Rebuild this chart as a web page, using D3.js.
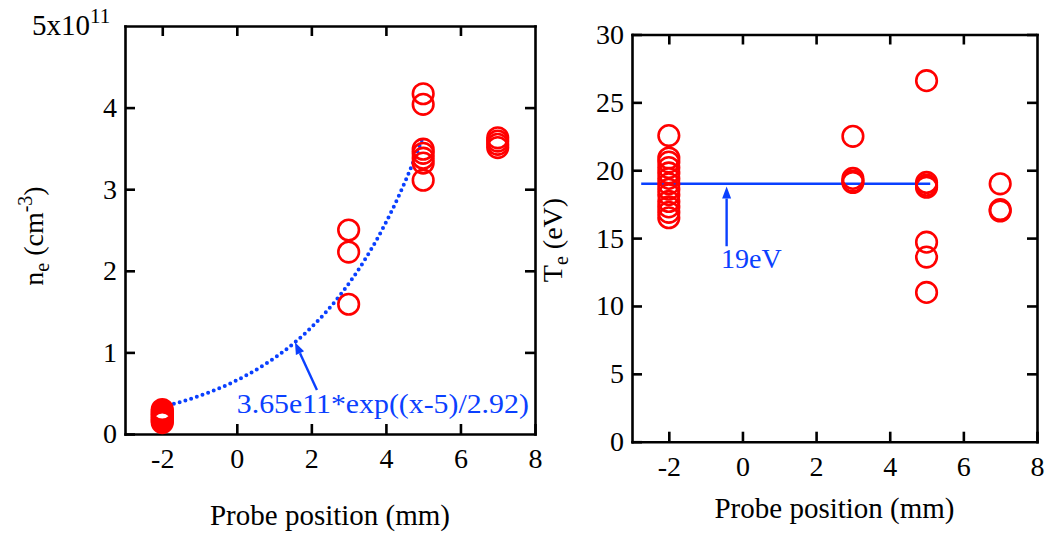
<!DOCTYPE html>
<html>
<head>
<meta charset="utf-8">
<script src="https://cdn.jsdelivr.net/npm/d3@7"></script>
<style>
  body { margin: 0; background: #ffffff; }
  svg text { font-family: "Liberation Serif", "Times New Roman", serif; }
</style>
</head>
<body>
<div id="chart"></div>
<script>
// ---- data ----
const xTicks   = [-2, 0, 2, 4, 6, 8];
const neTicks  = [0, 1, 2, 3, 4];          // units of 1e11 cm^-3
const teTicks  = [0, 5, 10, 15, 20, 25, 30];

const neX = [-2, -2, -2, -2, -2, -2, -2, -2, -2, 3, 3, 3, 5, 5, 5, 5, 5, 5, 5, 7, 7, 7, 7];
const neY = [0.14, 0.16, 0.18, 0.20, 0.22, 0.24, 0.26, 0.28, 0.30,
             2.50, 2.23, 1.59,
             4.17, 4.04, 3.49, 3.44, 3.38, 3.32, 3.11,
             3.63, 3.59, 3.55, 3.51];

const teX = [-2, -2, -2, -2, -2, -2, -2, -2, -2, -2, -2, -2, -2,
             3, 3, 3, 3,
             5, 5, 5, 5, 5, 5, 5,
             7, 7, 7];
const teY = [22.55, 20.9, 20.6, 20.2, 19.8, 19.4, 19.0, 18.6, 18.2, 17.7, 17.3, 16.9, 16.5,
             22.5, 19.4, 19.2, 19.1,
             26.6, 19.1, 18.9, 18.75, 14.7, 13.6, 11.0,
             19.0, 17.1, 17.0];

// fit shown on the left panel: 3.65e11*exp((x-5)/2.92), drawn from x=-2 to 5
const fitAmp = 3.65, fitX0 = 5, fitLen = 2.92;
const fitRange = [-2, 5];
// mean Te line on the right panel
const teMean = 19;
const teMeanRange = [-2.75, 5.1];

const W = 1046, H = 536;
const blue = "#0a40ff", red = "#ff0000";
const serif = "'Liberation Serif','Times New Roman',serif";

const svg = d3.select("#chart").append("svg")
	.attr("width", W).attr("height", H)
	.attr("font-family", serif);

// one panel = frame + inward ticks on four sides
const panel = (px, py, yDomain, yTickVals)=>{
	const x = d3.scaleLinear().domain([-3, 8]).range(px);
	const y = d3.scaleLinear().domain(yDomain).range(py);
	const g = svg.append("g");

	const styleAx = (sel)=>{
		sel.attr("font-family", serif).attr("font-size", 28);
		sel.selectAll("path").attr("stroke", "#000").attr("stroke-width", 2.6).attr("stroke-linecap", "square");
		sel.selectAll("line").attr("stroke", "#000").attr("stroke-width", 2.6);
		sel.selectAll("text").attr("fill", "#000");
	};
	const fmt = (d)=>String(d);   // plain hyphen for negatives

	g.append("g").attr("transform", "translate(0," + py[0] + ")")
		.call(d3.axisBottom(x).tickValues(xTicks).tickSize(-10).tickSizeOuter(0).tickPadding(14).tickFormat(fmt))
		.call(styleAx);
	g.append("g").attr("transform", "translate(0," + py[1] + ")")
		.call(d3.axisTop(x).tickValues(xTicks.filter(d=>d<8)).tickSize(-10).tickSizeOuter(0).tickFormat(""))
		.call(styleAx);
	g.append("g").attr("transform", "translate(" + px[0] + ",0)")
		.call(d3.axisLeft(y).tickValues(yTickVals).tickSize(-10).tickSizeOuter(0).tickPadding(8).tickFormat(fmt))
		.call(styleAx);
	g.append("g").attr("transform", "translate(" + px[1] + ",0)")
		.call(d3.axisRight(y).tickValues(yTickVals.filter(d=>d>yDomain[0])).tickSize(-10).tickSizeOuter(0).tickFormat(""))
		.call(styleAx);
	g.selectAll(".domain").attr("fill", "none");
	return {g, x, y};
};

const arrowHead = (g, x1, y1, x2, y2)=>{
	// filled triangle at (x2,y2) pointing from (x1,y1)
	const a = Math.atan2(y2 - y1, x2 - x1), L = 12, w = 4.5;
	const bx = x2 - L * Math.cos(a), by = y2 - L * Math.sin(a);
	const pts = [[x2, y2],
		[bx + w * Math.sin(a), by - w * Math.cos(a)],
		[bx - w * Math.sin(a), by + w * Math.cos(a)]];
	g.append("path").attr("d", "M" + pts.join("L") + "Z").attr("fill", blue);
	g.append("line").attr("x1", x1).attr("y1", y1).attr("x2", bx).attr("y2", by)
		.attr("stroke", blue).attr("stroke-width", 2.4);
};

// ---- left panel: density ----
const L = panel([125, 535], [434, 26], [0, 5], neTicks);

const fitPts = d3.range(fitRange[0], fitRange[1] + 1e-9, 0.05).map(v=>[v, fitAmp * Math.exp((v - fitX0) / fitLen)]);
L.g.append("path")
	.datum(fitPts)
	.attr("d", d3.line().x(d=>L.x(d[0])).y(d=>L.y(d[1])))
	.attr("fill", "none").attr("stroke", blue).attr("stroke-width", 4)
	.attr("stroke-linecap", "round").attr("stroke-dasharray", "0,6");

L.g.selectAll("circle.ne")
	.data(neX.map((v, i)=>[v, neY[i]]))
	.enter().append("circle").attr("class", "ne")
		.attr("cx", d=>L.x(d[0])).attr("cy", d=>L.y(d[1])).attr("r", 10.3)
		.attr("fill", "none").attr("stroke", red).attr("stroke-width", 2.6);

arrowHead(L.g, L.x(2.15), L.y(0.54), L.x(1.56), L.y(fitAmp * Math.exp((1.56 - fitX0) / fitLen)));
L.g.append("text").attr("x", L.x(0)).attr("y", L.y(0.26))
	.attr("fill", blue).attr("font-size", 28)
	.attr("textLength", 292).attr("lengthAdjust", "spacingAndGlyphs")
	.text("3.65e11*exp((x-5)/2.92)");

// top tick label 5x10^11
const t5 = L.g.append("text").attr("x", 32).attr("y", 35).attr("font-size", 29).attr("fill", "#000");
t5.append("tspan").text("5x10");
t5.append("tspan").attr("dy", -12).attr("font-size", 21).text("11");

L.g.append("text").attr("x", L.x(2.5)).attr("y", 525).attr("text-anchor", "middle")
	.attr("font-size", 29).text("Probe position (mm)");

const ny = L.g.append("text").attr("transform", "translate(43,236) rotate(-90)")
	.attr("text-anchor", "middle").attr("font-size", 28);
ny.append("tspan").text("n");
ny.append("tspan").attr("dy", 6).attr("font-size", 20).text("e");
ny.append("tspan").attr("dy", -6).text(" (cm");
ny.append("tspan").attr("dy", -11).attr("font-size", 20).text("-3");
ny.append("tspan").attr("dy", 11).text(")");

// ---- right panel: temperature ----
const R = panel([632, 1037], [441.7, 34.5], [0, 30], teTicks);

R.g.append("line")
	.attr("x1", R.x(teMeanRange[0])).attr("x2", R.x(teMeanRange[1]))
	.attr("y1", R.y(teMean)).attr("y2", R.y(teMean))
	.attr("stroke", blue).attr("stroke-width", 2.6);

R.g.selectAll("circle.te")
	.data(teX.map((v, i)=>[v, teY[i]]))
	.enter().append("circle").attr("class", "te")
		.attr("cx", d=>R.x(d[0])).attr("cy", d=>R.y(d[1])).attr("r", 10.3)
		.attr("fill", "none").attr("stroke", red).attr("stroke-width", 2.6);

arrowHead(R.g, R.x(-0.43), R.y(14.4), R.x(-0.43), R.y(18.8));
R.g.append("text").attr("x", R.x(-0.58)).attr("y", R.y(12.8))
	.attr("fill", blue).attr("font-size", 28).text("19eV");

R.g.append("text").attr("x", R.x(2.5)).attr("y", 518).attr("text-anchor", "middle")
	.attr("font-size", 29).text("Probe position (mm)");

const ty = R.g.append("text").attr("transform", "translate(562,240) rotate(-90)")
	.attr("text-anchor", "middle").attr("font-size", 28);
ty.append("tspan").text("T");
ty.append("tspan").attr("dy", 6).attr("font-size", 20).text("e");
ty.append("tspan").attr("dy", -6).text(" (eV)");
</script>
</body>
</html>
